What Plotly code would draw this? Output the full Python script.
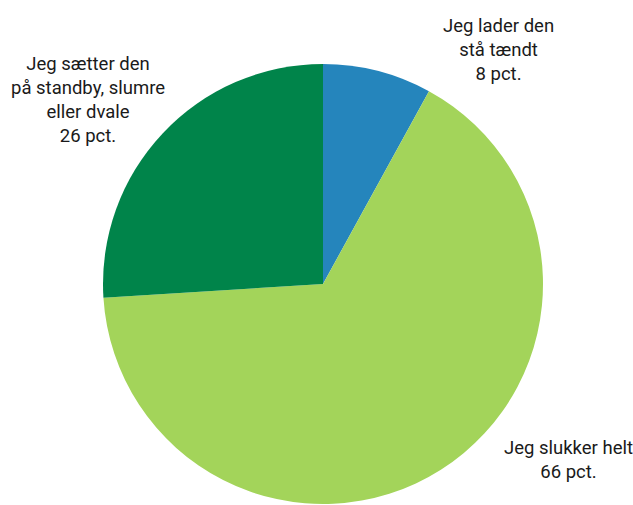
import plotly.graph_objects as go

labels = ["Jeg lader den<br>stå tændt", "Jeg slukker helt", "Jeg sætter den<br>på standby, slumre<br>eller dvale"]
values = [8, 66, 26]
colors = ["#2585BC", "#A3D45A", "#00844A"]

W, H = 633, 505

def px(x):
    return x / W

def py(y):
    return 1 - y / H

fig = go.Figure(go.Pie(
    labels=labels, values=values, sort=False, direction="clockwise", rotation=0,
    marker=dict(colors=colors, line=dict(width=0)),
    textinfo="none", hoverinfo="label+percent",
    domain=dict(x=[px(103), px(543)], y=[py(504), py(64)]),
    showlegend=False,
))

font = dict(family="Roboto, sans-serif", size=18.5, color="#1a1a1a")
ann = [
    (f"{labels[2]}<br>{values[2]} pct.", 88, 100),
    (f"{labels[0]}<br>{values[0]} pct.", 498, 50),
    (f"{labels[1]}<br>{values[1]} pct.", 568, 460),
]
fig.update_layout(
    width=W, height=H, margin=dict(l=0, r=0, t=0, b=0),
    paper_bgcolor="white", plot_bgcolor="white",
    annotations=[dict(text=t, x=px(x), y=py(y), xref="paper", yref="paper",
                      showarrow=False, align="center", xanchor="center", yanchor="middle", font=font)
                 for t, x, y in ann],
)
fig.write_html(
    "out.html",
    config={"displayModeBar": False},
    post_script="document.body.style.margin='0';document.body.style.overflow='hidden';",
)
